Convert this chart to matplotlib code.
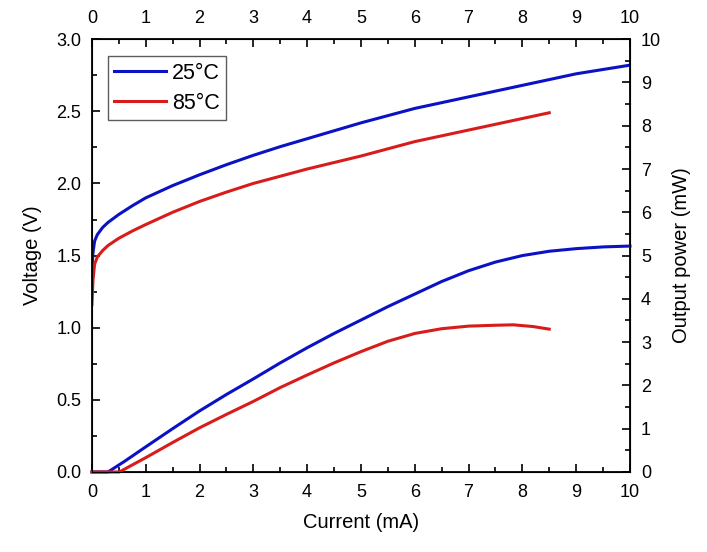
import matplotlib.pyplot as plt
from matplotlib.ticker import MultipleLocator

plt.rcParams['font.family'] = ['Liberation Sans', 'DejaVu Sans']

# voltage curves (V) vs current (mA)
i_v25 = [0, 0.02, 0.05, 0.1, 0.2, 0.3, 0.5, 0.75, 1, 1.5, 2, 2.5, 3, 3.5, 4, 4.5, 5, 5.5, 6, 6.5, 7, 7.5, 8, 8.5, 9, 9.5, 10]
v25 = [1.41, 1.52, 1.60, 1.645, 1.695, 1.73, 1.785, 1.845, 1.90, 1.985, 2.06, 2.13, 2.195, 2.255, 2.31, 2.365, 2.42, 2.47, 2.52, 2.56, 2.60, 2.64, 2.68, 2.72, 2.76, 2.79, 2.82]
i_v85 = [0, 0.02, 0.05, 0.1, 0.2, 0.3, 0.5, 0.75, 1, 1.5, 2, 2.5, 3, 3.5, 4, 4.5, 5, 5.5, 6, 6.5, 7, 7.5, 8, 8.5]
v85 = [1.16, 1.33, 1.44, 1.49, 1.535, 1.57, 1.62, 1.67, 1.715, 1.80, 1.875, 1.94, 2.00, 2.05, 2.10, 2.145, 2.19, 2.24, 2.29, 2.33, 2.37, 2.41, 2.45, 2.49]

# output power curves (mW) vs current (mA)
i_p25 = [0, 0.3, 0.6, 1, 1.5, 2, 2.5, 3, 3.5, 4, 4.5, 5, 5.5, 6, 6.5, 7, 7.5, 8, 8.5, 9, 9.5, 10]
p25 = [0, 0, 0.24, 0.58, 1.0, 1.41, 1.79, 2.15, 2.52, 2.87, 3.2, 3.51, 3.82, 4.11, 4.40, 4.65, 4.85, 5.00, 5.10, 5.16, 5.20, 5.22]
i_p85 = [0, 0.51, 1, 1.5, 2, 2.5, 3, 3.5, 4, 4.5, 5, 5.5, 6, 6.5, 7, 7.5, 7.83, 8.2, 8.5]
p85 = [0, 0, 0.33, 0.68, 1.02, 1.33, 1.63, 1.95, 2.24, 2.52, 2.78, 3.02, 3.20, 3.31, 3.37, 3.39, 3.40, 3.36, 3.30]

blue = '#0a12c4'
red = '#d81c1c'

fig = plt.figure(figsize=(7.07, 5.52), dpi=100)
ax = fig.add_axes([0.130, 0.145, 0.761, 0.784])
ax.plot(i_v25, v25, color=blue, lw=2.2, label='25°C')
ax.plot(i_v85, v85, color=red, lw=2.2, label='85°C')
ax.set_xlim(0, 10)
ax.set_ylim(0, 3)
ax.xaxis.set_major_locator(MultipleLocator(1))
ax.xaxis.set_minor_locator(MultipleLocator(0.5))
ax.yaxis.set_major_locator(MultipleLocator(0.5))
ax.yaxis.set_minor_locator(MultipleLocator(0.25))
ax.yaxis.set_major_formatter(lambda v, p: f'{v:.1f}')
ax.tick_params(which='both', direction='in', top=True, labeltop=True, labelsize=13, width=1.2)
ax.tick_params(which='major', length=6)
ax.tick_params(which='minor', length=3.5)
ax.tick_params(axis='x', pad=9)
ax.tick_params(axis='y', pad=7.5)
ax.set_xlabel('Current (mA)', fontsize=14.5, labelpad=8)
ax.set_ylabel('Voltage (V)', fontsize=14.5, labelpad=10)
for s in ax.spines.values():
    s.set_linewidth(1.3)

ax2 = ax.twinx()
ax2.plot(i_p25, p25, color=blue, lw=2.2, clip_on=False)
ax2.plot(i_p85, p85, color=red, lw=2.2, clip_on=False)
ax2.set_ylim(0, 10)
ax2.yaxis.set_major_locator(MultipleLocator(1))
ax2.yaxis.set_minor_locator(MultipleLocator(0.5))
ax2.tick_params(which='both', direction='in', labelsize=13, width=1.2, pad=8)
ax2.tick_params(which='major', length=6)
ax2.tick_params(which='minor', length=3.5)
ax2.set_ylabel('Output power (mW)', fontsize=14.5, labelpad=8)

leg = ax.legend(loc='upper left', bbox_to_anchor=(0.017, 0.975), fontsize=15.5,
                fancybox=False, edgecolor='#333333', handlelength=2.4,
                handletextpad=0.3, borderpad=0.3, labelspacing=0.4,
                borderaxespad=0.3)
leg.get_frame().set_linewidth(1.0)

fig.savefig('out.png', dpi=100)
